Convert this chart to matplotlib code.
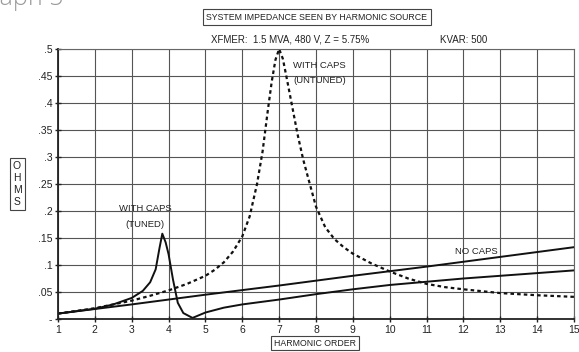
import matplotlib
matplotlib.use("Agg")
import matplotlib.pyplot as plt

plt.rcParams['font.family'] = ['Liberation Sans', 'DejaVu Sans']

# Harmonic order ticks / impedance ticks
x_ticks = list(range(1, 16))
y_ticks = [0, 0.05, 0.1, 0.15, 0.2, 0.25, 0.3, 0.35, 0.4, 0.45, 0.5]
y_tick_labels = ["-", ".05", ".1", ".15", ".2", ".25", ".3", ".35", ".4", ".45", ".5"]

# No caps
nocaps_x = [1, 3, 5, 7, 9, 11, 13, 15]
nocaps_y = [0.010, 0.027, 0.045, 0.062, 0.080, 0.097, 0.115, 0.133]

# With caps (untuned)
untuned_x = [1, 2, 3, 3.5, 4, 4.5, 5, 5.25, 5.5, 5.75, 6, 6.2, 6.4, 6.55, 6.7, 6.8,
             6.9, 7.0, 7.1, 7.2, 7.35, 7.5, 7.65, 7.8, 8, 8.25, 8.5, 8.75, 9, 9.5,
             10, 10.5, 11, 11.5, 12, 13, 14, 15]
untuned_y = [0.010, 0.020, 0.034, 0.043, 0.053, 0.065, 0.080, 0.091, 0.105, 0.125,
             0.153, 0.190, 0.250, 0.310, 0.390, 0.440, 0.480, 0.500, 0.482, 0.448,
             0.395, 0.342, 0.296, 0.258, 0.208, 0.170, 0.148, 0.133, 0.121, 0.103,
             0.088, 0.075, 0.065, 0.059, 0.055, 0.048, 0.044, 0.041]

# With caps (tuned)
tuned_x = [1, 2, 2.5, 3, 3.3, 3.5, 3.65, 3.75, 3.83, 3.92, 4.0, 4.12, 4.25, 4.4,
           4.65, 5, 5.5, 6, 7, 8, 9, 10, 11, 12, 13, 14, 15]
tuned_y = [0.010, 0.019, 0.027, 0.039, 0.052, 0.068, 0.092, 0.130, 0.158, 0.142,
           0.120, 0.073, 0.030, 0.011, 0.002, 0.012, 0.021, 0.027, 0.036, 0.046,
           0.055, 0.063, 0.069, 0.075, 0.080, 0.085, 0.090]

fig = plt.figure(figsize=(5.79, 3.52), dpi=100)
ax = fig.add_axes([58/579, 33/352, 516/579, 270/352])

ax.plot(nocaps_x, nocaps_y, color='#111111', lw=1.4)
ax.plot(tuned_x, tuned_y, color='#111111', lw=1.4)
ax.plot(untuned_x, untuned_y, color='#111111', lw=1.6, linestyle=(0, (1.6, 1.4)))

ax.set_xlim(1, 15)
ax.set_ylim(0, 0.5)
ax.set_xticks(x_ticks)
ax.set_xticklabels([str(v) for v in x_ticks], fontsize=7.5)
ax.set_yticks(y_ticks)
ax.set_yticklabels(y_tick_labels, fontsize=7.5)
ax.grid(True, color='#555555', lw=0.8)
ax.tick_params(axis='both', length=4, width=1, color='#222222', pad=2,
               labelcolor='#222222', direction='inout')
for side in ['top', 'right']:
    ax.spines[side].set_color('#666666')
    ax.spines[side].set_linewidth(0.8)
for side in ['left', 'bottom']:
    ax.spines[side].set_color('#222222')
    ax.spines[side].set_linewidth(1.3)

ax.text(8.1, 0.456, "WITH CAPS\n(UNTUNED)", fontsize=6.8, ha='center', va='center',
        linespacing=1.9, color='#222222')
ax.text(3.36, 0.19, "WITH CAPS\n(TUNED)", fontsize=6.8, ha='center', va='center',
        linespacing=1.9, color='#222222')
ax.text(12.35, 0.125, "NO CAPS", fontsize=6.8, ha='center', va='center', color='#222222')

# titles
fig.text(317/579, 1 - 17/352, "SYSTEM IMPEDANCE SEEN BY HARMONIC SOURCE", fontsize=6.3,
         ha='center', va='center', color='#222222',
         bbox=dict(boxstyle='square,pad=0.35', fc='white', ec='#444444', lw=0.8))
fig.text(211/579, 1 - 40/352, "XFMER:  1.5 MVA, 480 V, Z = 5.75%", fontsize=7,
         ha='left', va='center', color='#222222')
fig.text(440/579, 1 - 40/352, "KVAR: 500", fontsize=7, ha='left', va='center',
         color='#222222')
fig.text(315/579, 1 - 343/352, "HARMONIC ORDER", fontsize=6.3, ha='center', va='center',
         color='#222222',
         bbox=dict(boxstyle='square,pad=0.3', fc='white', ec='#444444', lw=0.8))
fig.text(17/579, 1 - 184/352, "O\nH\nM\nS", fontsize=7.5, ha='center', va='center',
         color='#222222', linespacing=1.25,
         bbox=dict(boxstyle='square,pad=0.3', fc='white', ec='#444444', lw=0.8))
fig.text(-28/579, 1 - 5/352, "Graph 5", fontsize=18, ha='left', va='baseline',
         color='#999999', family='Open Sans', fontweight='light')

fig.savefig("out.png", dpi=100)
